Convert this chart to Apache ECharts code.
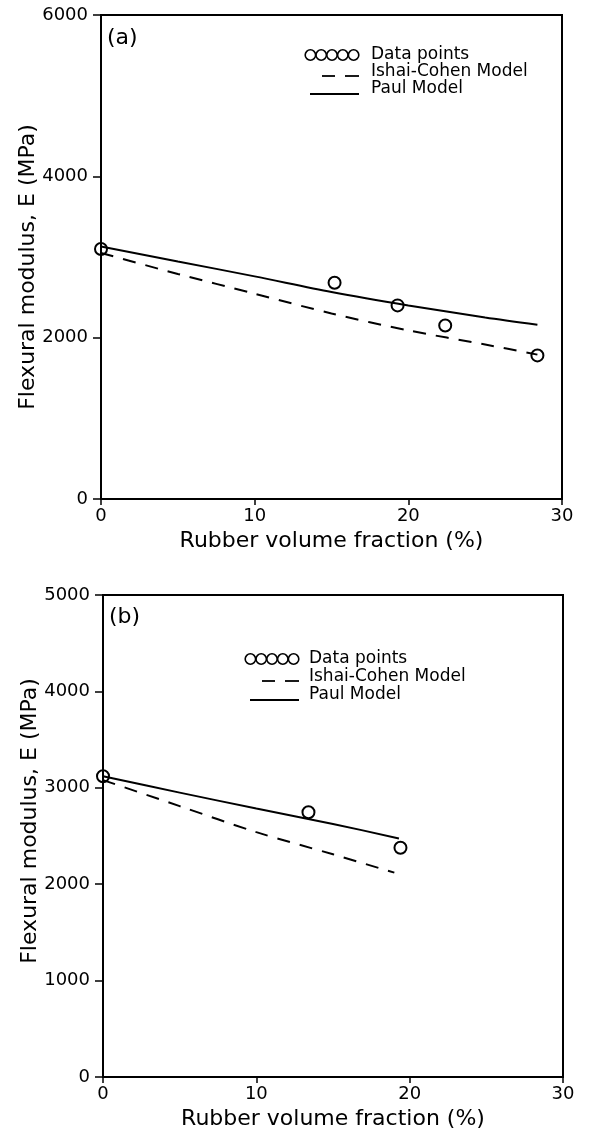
<!DOCTYPE html>
<html>
<head>
<meta charset="utf-8">
<script src="https://cdn.jsdelivr.net/npm/echarts@6/dist/echarts.min.js"></script>
<style>html,body{margin:0;padding:0;background:#fff}#c{width:615px;height:1131px}</style>
</head>
<body>
<div id="c"></div>
<script>
// ---- Panel (a) data ----
const aPointsX = [0, 15.2, 19.3, 22.4, 28.4];
const aPointsY = [3100, 2680, 2400, 2150, 1780];
const aModelX = [0, 5, 10, 15, 20, 25, 28.4];
const aPaul = [3130, 2945, 2760, 2567, 2400, 2250, 2160];
const aIshai = [3050, 2790, 2545, 2300, 2090, 1915, 1790];
const aYTicks = {min: 0, max: 6000, interval: 2000};

// ---- Panel (b) data ----
const bPointsX = [0, 13.4, 19.4];
const bPointsY = [3120, 2746, 2378];
const bModelXPaul = [0, 5, 10, 15, 19.3];
const bPaul = [3120, 2950, 2785, 2625, 2475];
const bModelXIshai = [0, 5, 10, 15, 19];
const bIshai = [3080, 2810, 2540, 2310, 2120];
const bYTicks = {min: 0, max: 5000, interval: 1000};

const xTicks = {min: 0, max: 30, interval: 10};
const xTitle = 'Rubber volume fraction (%)';
const yTitle = 'Flexural modulus, E (MPa)';
const legendNames = ['Data points', 'Ishai-Cohen Model', 'Paul Model'];

const zip = (xs, ys) => xs.map((x, i) => [x, ys[i]]);
const FONT = 'DejaVu Sans';
const black = '#000';

function xAxis(gi) {
  return {
    type: 'value', gridIndex: gi, min: xTicks.min, max: xTicks.max, interval: xTicks.interval,
    name: xTitle, nameLocation: 'middle', nameGap: 31, nameMoveOverlap: false,
    nameTextStyle: {fontFamily: FONT, fontSize: 22, color: black},
    axisLine: {lineStyle: {color: black, width: 2}},
    axisTick: {inside: false, length: 6, lineStyle: {color: black, width: 1.5}},
    axisLabel: {fontFamily: FONT, fontSize: 18, color: black, margin: 8, formatter: v => String(v)},
    splitLine: {show: false}
  };
}
function yAxis(gi, t, pad) {
  return {
    type: 'value', gridIndex: gi, min: t.min, max: t.max, interval: t.interval,
    name: yTitle, nameLocation: 'middle', nameGap: 62, nameRotate: 90, nameMoveOverlap: false,
    nameTextStyle: {fontFamily: FONT, fontSize: 22, color: black, padding: pad},
    axisLine: {lineStyle: {color: black, width: 2}},
    axisTick: {inside: false, length: 8, lineStyle: {color: black, width: 1.5}},
    axisLabel: {fontFamily: FONT, fontSize: 18, color: black, margin: 13, formatter: v => String(v)},
    splitLine: {show: false}
  };
}
function pts(gi, data) {
  return {type: 'scatter', xAxisIndex: gi, yAxisIndex: gi, data, symbol: 'circle', symbolSize: 12,
    itemStyle: {color: 'rgba(0,0,0,0)', borderColor: black, borderWidth: 2, opacity: 1}, z: 5, silent: true};
}
function line(gi, data, dashed) {
  return {type: 'line', xAxisIndex: gi, yAxisIndex: gi, data, showSymbol: false, smooth: 0.3,
    lineStyle: {color: black, width: 2, type: dashed ? [13, 10] : 'solid'}, silent: true};
}

function legendGraphic(x0, textX, ys) {
  const g = [];
  for (let i = 0; i < 5; i++) {
    g.push({type: 'circle', shape: {cx: x0 + 5.4 + i * 10.8, cy: ys[0], r: 5.2},
      style: {fill: 'none', stroke: black, lineWidth: 1.6}});
  }
  g.push({type: 'line', shape: {x1: x0 + 17, y1: ys[1] + 4, x2: x0 + 30, y2: ys[1] + 4}, style: {stroke: black, lineWidth: 1.8}});
  g.push({type: 'line', shape: {x1: x0 + 40, y1: ys[1] + 4, x2: x0 + 54, y2: ys[1] + 4}, style: {stroke: black, lineWidth: 1.8}});
  g.push({type: 'line', shape: {x1: x0 + 5, y1: ys[2] + 5, x2: x0 + 54, y2: ys[2] + 5}, style: {stroke: black, lineWidth: 1.8}});
  legendNames.forEach((n, i) => {
    g.push({type: 'text', x: textX, y: ys[i], style: {text: n, font: '17px "DejaVu Sans"', fill: black, verticalAlign: 'middle'}});
  });
  return g;
}

const chart = echarts.init(document.getElementById('c'), null, {renderer: 'canvas'});
chart.setOption({
  animation: false,
  backgroundColor: '#fff',
  grid: [
    {left: 101, top: 15, width: 461, height: 484, show: true, borderColor: black, borderWidth: 2, backgroundColor: 'transparent'},
    {left: 103, top: 595, width: 460, height: 483, show: true, borderColor: black, borderWidth: 2, backgroundColor: 'transparent'}
  ],
  xAxis: [xAxis(0), xAxis(1)],
  yAxis: [yAxis(0, aYTicks, [0, 20, 0, 0]), yAxis(1, bYTicks, [0, 0, 0, 30])],
  series: [
    line(0, zip(aModelX, aPaul), false),
    line(0, zip(aModelX, aIshai), true),
    pts(0, zip(aPointsX, aPointsY)),
    line(1, zip(bModelXPaul, bPaul), false),
    line(1, zip(bModelXIshai, bIshai), true),
    pts(1, zip(bPointsX, bPointsY))
  ],
  graphic: [
    {type: 'text', x: 107, y: 38, style: {text: '(a)', font: '22px "DejaVu Sans"', fill: black, verticalAlign: 'middle'}},
    {type: 'text', x: 109, y: 617, style: {text: '(b)', font: '22px "DejaVu Sans"', fill: black, verticalAlign: 'middle'}},
    ...legendGraphic(305, 371, [55, 72, 89]),
    ...legendGraphic(245, 309, [659, 677, 695])
  ]
});
</script>
</body>
</html>
